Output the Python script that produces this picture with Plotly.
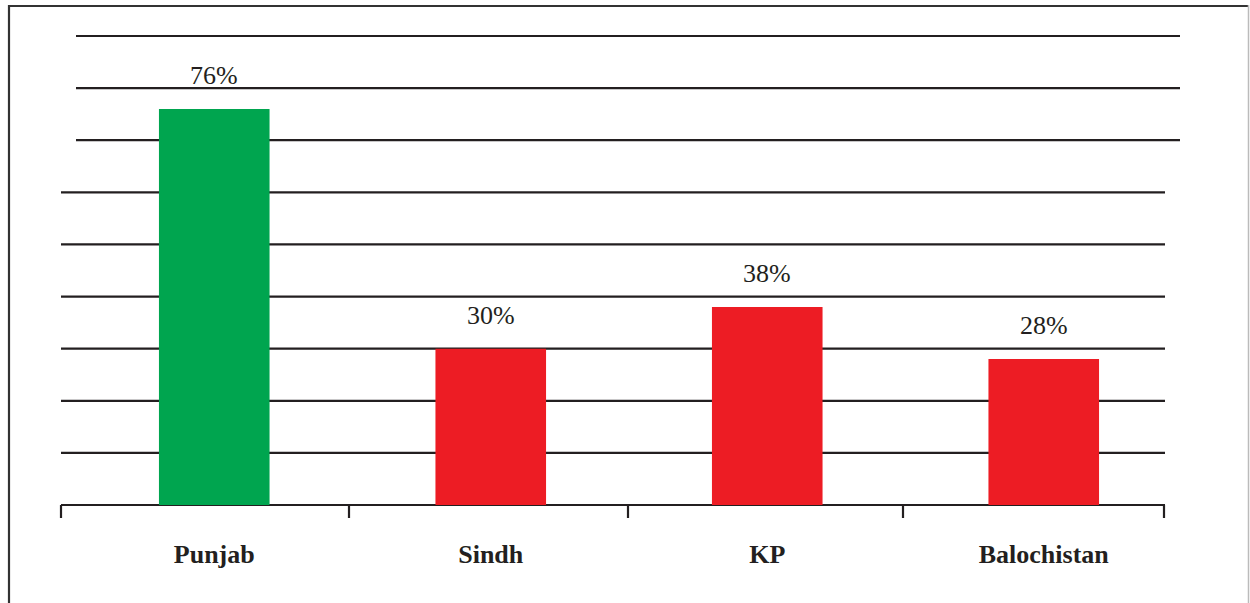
import plotly.graph_objects as go

categories = ["Punjab", "Sindh", "KP", "Balochistan"]
values = [76, 30, 38, 28]
labels = ["76%", "30%", "38%", "28%"]
colors = ["#00a54f", "#ed1c24", "#ed1c24", "#ed1c24"]
grid_values = [10, 20, 30, 40, 50, 60, 70, 80, 90]

W, H = 1250, 603
L, R, T, B = 76, 68, 26, 98
PW = W - L - R
PH = H - T - B
# 0 -> y=505px, 90 -> y=36px
ytop = 90 * PH / (505 - 36)

def xp(px):
    return (px - L) / PW

def yp(py):
    return (H - B - py) / PH

LINE = "#231f20"

fig = go.Figure()
fig.add_trace(go.Bar(
    x=categories, y=values, marker=dict(color=colors, line=dict(width=0)),
    width=0.4, hoverinfo="skip",
))

shapes = []
for g in grid_values:
    if g >= 70:
        x0, x1 = xp(76), xp(1180)
    else:
        x0, x1 = xp(61), xp(1165)
    shapes.append(dict(type="line", xref="paper", yref="y", x0=x0, x1=x1, y0=g, y1=g,
                       line=dict(color=LINE, width=2.2), layer="below"))
shapes.append(dict(type="line", xref="paper", yref="paper", x0=xp(61), x1=xp(1165), y0=0, y1=0,
                   line=dict(color=LINE, width=2.2), layer="below"))
for tx in [61, 349, 628, 903, 1164]:
    shapes.append(dict(type="line", xref="paper", yref="paper", x0=xp(tx), x1=xp(tx),
                       y0=yp(505), y1=yp(518), line=dict(color=LINE, width=2.2)))
# outer frame
shapes.append(dict(type="line", xref="paper", yref="paper", x0=xp(9), x1=xp(9), y0=yp(5), y1=yp(610),
                   line=dict(color="#333333", width=2.2)))
shapes.append(dict(type="line", xref="paper", yref="paper", x0=xp(8), x1=xp(1249), y0=yp(6), y1=yp(6),
                   line=dict(color="#333333", width=2.2)))
shapes.append(dict(type="line", xref="paper", yref="paper", x0=xp(1248.5), x1=xp(1248.5), y0=yp(5), y1=yp(610),
                   line=dict(color="#bbbbbb", width=1.5)))

annotations = []
for c, v, t in zip(categories, values, labels):
    annotations.append(dict(x=c, y=v, text=t, showarrow=False, yanchor="bottom", yshift=17,
                            font=dict(family="Liberation Serif", size=26, color="#231f20")))

fig.update_layout(
    width=W, height=H,
    margin=dict(l=L, r=R, t=T, b=B),
    paper_bgcolor="white", plot_bgcolor="white",
    showlegend=False, bargap=0.6,
    shapes=shapes, annotations=annotations,
    xaxis=dict(showgrid=False, zeroline=False, showline=False, ticks="",
               tickfont=dict(family="Liberation Serif", size=26, color="#231f20", weight="bold"),
               ticklabelstandoff=31),
    yaxis=dict(range=[0, ytop], showgrid=False, zeroline=False, showline=False,
               showticklabels=False, ticks=""),
)

fig.write_html("out.html", config={"displayModeBar": False},
               post_script="document.body.style.margin='0';document.body.style.overflow='hidden';")
